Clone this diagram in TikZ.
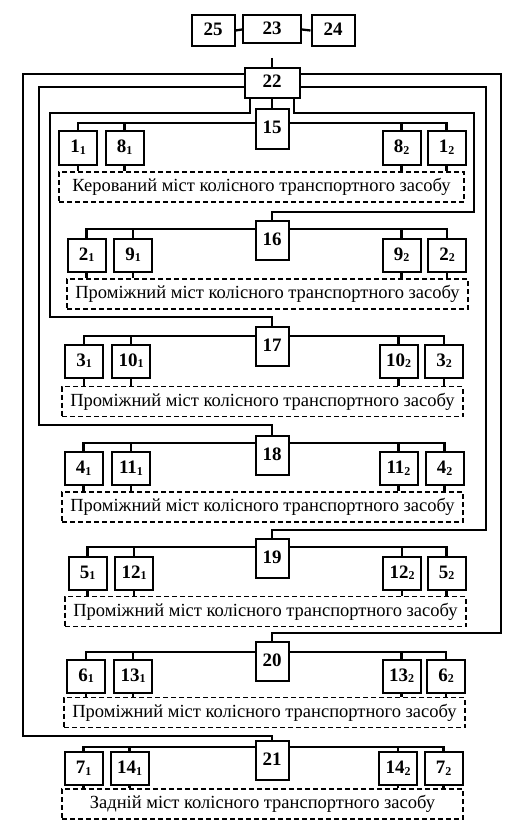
\documentclass[tikz,border=0pt]{standalone}
\usepackage{fontspec}
\setmainfont{Liberation Serif}
\usepackage{tikz}

\tikzset{
  blk/.style={draw, line width=2pt, inner sep=0pt, minimum width=38pt, minimum height=33pt,
    text height=13pt, text depth=3pt, font=\fontsize{19}{19}\selectfont\bfseries},
  ctl/.style={blk, minimum width=33pt, minimum height=39pt},
  axle/.style={draw, line width=1.8pt, dash pattern=on 5pt off 3pt, inner sep=0pt,
    minimum width=401pt, minimum height=30pt, font=\fontsize{18.5}{18.5}\selectfont},
  wire/.style={line width=2.3pt},
}
\newcommand{\ix}[1]{\raisebox{-1.5pt}{\fontsize{12}{12}\selectfont #1}}

\begin{document}
\begin{tikzpicture}[x=1pt,y=-1pt]
  \useasboundingbox (0,0) rectangle (529,832);
  % top row
  \node[blk, minimum width=43pt, minimum height=31pt] (25) at (213,30.5) {25};
  \node[blk, minimum width=58pt, minimum height=28pt] (23) at (272,29.5) {23};
  \node[blk, minimum width=43pt, minimum height=31pt] (24) at (333,30.5) {24};
  \draw[wire] (25.east) -- (23.west);
  \draw[wire] (23.east) -- (24.west);
  \coordinate (top22) at (272,58);
  \node[blk, minimum width=55pt, minimum height=30pt] (22) at (272,83) {22};
  \draw[wire] (top22) -- (22.north);
  % row of 15
  \node[ctl] (15) at (272,129) {15};
  \node[blk] (1a) at (78,148) {1\ix{1}};
  \node[blk] (8a) at (124.5,148) {8\ix{1}};
  \node[blk] (8b) at (401.5,148) {8\ix{2}};
  \node[blk] (1b) at (446.5,148) {1\ix{2}};
  \node[axle, minimum width=405pt] (m1) at (261.5,187) {Керований міст колісного транспортного засобу};
  \draw[wire] (15.west |- 0,123) -| (1a.north);
  \draw[wire] (15.east |- 0,123) -| (1b.north);
  \draw[wire] (8a.north) -- (8a.north |- 0,123);
  \draw[wire] (8b.north) -- (8b.north |- 0,123);
  \draw[wire] (1a.south) -- (1a.south |- m1.north);
  \draw[wire] (8a.south) -- (8a.south |- m1.north);
  \draw[wire] (8b.south) -- (8b.south |- m1.north);
  \draw[wire] (1b.south) -- (1b.south |- m1.north);
  % row of 16
  \node[ctl] (16) at (272,240.5) {16};
  \node[blk] (2a) at (86.5,255) {2\ix{1}};
  \node[blk] (9a) at (133,255) {9\ix{1}};
  \node[blk] (9b) at (401.5,255) {9\ix{2}};
  \node[blk] (2b) at (447,255) {2\ix{2}};
  \node[axle] (m2) at (267.5,294) {Проміжний міст колісного транспортного засобу};
  \draw[wire] (16.west |- 0,229) -| (2a.north);
  \draw[wire] (16.east |- 0,229) -| (2b.north);
  \draw[wire] (9a.north) -- (9a.north |- 0,229);
  \draw[wire] (9b.north) -- (9b.north |- 0,229);
  \draw[wire] (2a.south) -- (2a.south |- m2.north);
  \draw[wire] (9a.south) -- (9a.south |- m2.north);
  \draw[wire] (9b.south) -- (9b.south |- m2.north);
  \draw[wire] (2b.south) -- (2b.south |- m2.north);
  % row of 17
  \node[ctl] (17) at (272,346.5) {17};
  \node[blk] (3a) at (84,361) {3\ix{1}};
  \node[blk] (10a) at (131,361) {10\ix{1}};
  \node[blk] (10b) at (398.5,361) {10\ix{2}};
  \node[blk] (3b) at (444,361) {3\ix{2}};
  \node[axle] (m3) at (262.5,401.5) {Проміжний міст колісного транспортного засобу};
  \draw[wire] (17.west |- 0,336) -| (3a.north);
  \draw[wire] (17.east |- 0,336) -| (3b.north);
  \draw[wire] (10a.north) -- (10a.north |- 0,336);
  \draw[wire] (10b.north) -- (10b.north |- 0,336);
  \draw[wire] (3a.south) -- (3a.south |- m3.north);
  \draw[wire] (10a.south) -- (10a.south |- m3.north);
  \draw[wire] (10b.south) -- (10b.south |- m3.north);
  \draw[wire] (3b.south) -- (3b.south |- m3.north);
  % row of 18
  \node[ctl] (18) at (272,455.5) {18};
  \node[blk] (4a) at (83.5,468.5) {4\ix{1}};
  \node[blk] (11a) at (131,468.5) {11\ix{1}};
  \node[blk] (11b) at (398.5,468.5) {11\ix{2}};
  \node[blk] (4b) at (444.5,468.5) {4\ix{2}};
  \node[axle] (m4) at (262.5,507) {Проміжний міст колісного транспортного засобу};
  \draw[wire] (18.west |- 0,443) -| (4a.north);
  \draw[wire] (18.east |- 0,443) -| (4b.north);
  \draw[wire] (11a.north) -- (11a.north |- 0,443);
  \draw[wire] (11b.north) -- (11b.north |- 0,443);
  \draw[wire] (4a.south) -- (4a.south |- m4.north);
  \draw[wire] (11a.south) -- (11a.south |- m4.north);
  \draw[wire] (11b.south) -- (11b.south |- m4.north);
  \draw[wire] (4b.south) -- (4b.south |- m4.north);
  % row of 19
  \node[ctl] (19) at (272,558.5) {19};
  \node[blk] (5a) at (87.5,573) {5\ix{1}};
  \node[blk] (12a) at (134,573) {12\ix{1}};
  \node[blk] (12b) at (402,573) {12\ix{2}};
  \node[blk] (5b) at (446.5,573) {5\ix{2}};
  \node[axle] (m5) at (265.5,611.5) {Проміжний міст колісного транспортного засобу};
  \draw[wire] (19.west |- 0,547) -| (5a.north);
  \draw[wire] (19.east |- 0,547) -| (5b.north);
  \draw[wire] (12a.north) -- (12a.north |- 0,547);
  \draw[wire] (12b.north) -- (12b.north |- 0,547);
  \draw[wire] (5a.south) -- (5a.south |- m5.north);
  \draw[wire] (12a.south) -- (12a.south |- m5.north);
  \draw[wire] (12b.south) -- (12b.south |- m5.north);
  \draw[wire] (5b.south) -- (5b.south |- m5.north);
  % row of 20
  \node[ctl] (20) at (272,661.5) {20};
  \node[blk] (6a) at (86,676) {6\ix{1}};
  \node[blk] (13a) at (133,676) {13\ix{1}};
  \node[blk] (13b) at (401.5,676) {13\ix{2}};
  \node[blk] (6b) at (446,676) {6\ix{2}};
  \node[axle] (m6) at (264.5,712.5) {Проміжний міст колісного транспортного засобу};
  \draw[wire] (20.west |- 0,652) -| (6a.north);
  \draw[wire] (20.east |- 0,652) -| (6b.north);
  \draw[wire] (13a.north) -- (13a.north |- 0,652);
  \draw[wire] (13b.north) -- (13b.north |- 0,652);
  \draw[wire] (6a.south) -- (6a.south |- m6.north);
  \draw[wire] (13a.south) -- (13a.south |- m6.north);
  \draw[wire] (13b.south) -- (13b.south |- m6.north);
  \draw[wire] (6b.south) -- (6b.south |- m6.north);
  % row of 21
  \node[ctl] (21) at (272,760.5) {21};
  \node[blk] (7a) at (83.5,768.5) {7\ix{1}};
  \node[blk] (14a) at (129.5,768.5) {14\ix{1}};
  \node[blk] (14b) at (398,768.5) {14\ix{2}};
  \node[blk] (7b) at (443.5,768.5) {7\ix{2}};
  \node[axle] (m7) at (262.5,804) {Задній міст колісного транспортного засобу};
  \draw[wire] (21.west |- 0,747) -| (7a.north);
  \draw[wire] (21.east |- 0,747) -| (7b.north);
  \draw[wire] (14a.north) -- (14a.north |- 0,747);
  \draw[wire] (14b.north) -- (14b.north |- 0,747);
  \draw[wire] (7a.south) -- (7a.south |- m7.north);
  \draw[wire] (14a.south) -- (14a.south |- m7.north);
  \draw[wire] (14b.south) -- (14b.south |- m7.north);
  \draw[wire] (7b.south) -- (7b.south |- m7.north);
  % lines from 22 to the row blocks
  \draw[wire] (22.south) -- (15.north);
  \draw[wire] (22.south -| 250,0) |- (50,113) -- (50,317) -| (17.north);
  \draw[wire] (22.south -| 294,0) |- (474,113) -- (474,212) -| (16.north);
  \draw[wire] (22.west |- 0,87) -| (39,425) -| (18.north);
  \draw[wire] (22.east |- 0,87) -| (486,530) -| (19.north);
  \draw[wire] (22.west |- 0,74) -| (23,736) -| (21.north);
  \draw[wire] (22.east |- 0,74) -| (501,633) -| (20.north);
\end{tikzpicture}
\end{document}
